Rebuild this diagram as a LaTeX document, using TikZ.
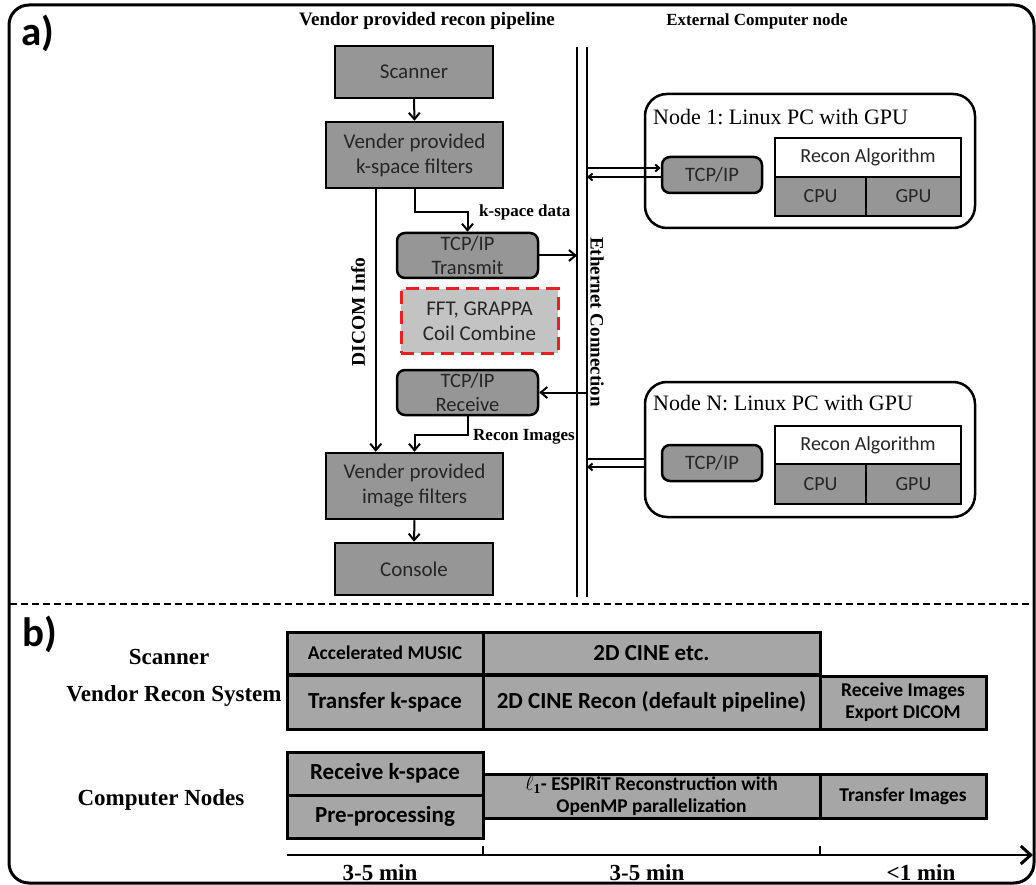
\documentclass[tikz,border=0pt]{standalone}
\usepackage{fontspec}
\setmainfont{Liberation Serif}
\newfontfamily\calfont{Carlito}
\usetikzlibrary{arrows.meta}
\definecolor{pgray}{RGB}{150,150,150}
\definecolor{tgray}{RGB}{166,166,166}
\definecolor{fgray}{RGB}{195,195,195}
\definecolor{dred}{RGB}{235,30,35}
\frenchspacing
\begin{document}
\begin{tikzpicture}[x=1pt,y=-1pt,
  bx/.style n args={4}{at={({(#1+#3)/2},{(#2+#4)/2})}, minimum width={(#3)-(#1)}, minimum height={(#4)-(#2)}},
  pbox/.style={draw, line width=2.5pt, fill=pgray, inner sep=0pt, align=center, text=black!85, font=\calfont\fontsize{21}{25}\selectfont},
  rbox/.style={pbox, rounded corners=8pt, font=\calfont\fontsize{20.5}{24}\selectfont},
  nbox/.style={draw, line width=2.5pt, rounded corners=22pt, inner sep=0pt},
  wbox/.style={draw, line width=2.5pt, fill=white, inner sep=0pt, text=black!85, font=\calfont\fontsize{20}{24}\selectfont},
  cbox/.style={wbox, fill=pgray},
  tbox/.style={draw, line width=3pt, fill=tgray, inner sep=0pt, align=center, font=\calfont\bfseries\fontsize{23}{27}\selectfont},
  tsmall/.style={font=\calfont\bfseries\fontsize{19.5}{22}\selectfont},
  arr/.style={line width=2pt, -{Straight Barb[length=6.5pt,width=11pt]}},
  sarr/.style={line width=2pt, -{Straight Barb[length=4pt,width=7pt]}},
  ln/.style={line width=2pt},
  lbl/.style={font=\bfseries\fontsize{17}{20}\selectfont, inner sep=0pt},
  ttl/.style={font=\bfseries\fontsize{19}{22}\selectfont, inner sep=0pt},
  ntl/.style={font=\fontsize{22}{26}\selectfont, inner sep=0pt, anchor=west},
  rowl/.style={font=\bfseries\fontsize{23}{27}\selectfont, inner sep=0pt},
  panel/.style={font=\calfont\bfseries\fontsize{41}{45}\selectfont, inner sep=0pt},
]
\useasboundingbox (0,0) rectangle (1036,885);
% frame
\draw[line width=3pt, rounded corners=20pt] (9,5) rectangle (1034,883);
\draw[line width=2.5pt, dash pattern=on 7pt off 4pt] (10,604) -- (1033,604);
\node[panel] (pa) at (38,33) {a)};
\node[panel] (pb) at (40,634) {b)};
% titles
\node[ttl] (t1) at (427,21) {Vendor provided recon pipeline};
\node[ttl, font=\bfseries\fontsize{17}{20}\selectfont] (t2) at (757,21) {External Computer node};
% pipeline
\node[pbox, bx={335}{46}{493}{98}] (scan) {Scanner};
\node[pbox, bx={326}{122}{503}{188}] (kf) {Vender provided\\k-space filters};
\node[rbox, bx={397}{233}{538}{278}] (tx) {TCP/IP\\Transmit};
\node[pbox, bx={401}{289}{558}{353}, fill=fgray, draw=dred, line width=3pt, dash pattern=on 13pt off 7pt] (fft) {FFT, GRAPPA\\Coil Combine};
\node[rbox, bx={397}{370}{538}{415}] (rx) {TCP/IP\\Receive};
\node[pbox, bx={326}{453}{503}{519}] (imf) {Vender provided\\image filters};
\node[pbox, bx={335}{543}{493}{595}] (con) {Console};
% ethernet
\coordinate (eLt) at (577,47); \coordinate (eLb) at (577,597);
\coordinate (eRt) at (587,47); \coordinate (eRb) at (587,597);
\draw[ln] (eLt) -- (eLb);
\draw[ln] (eRt) -- (eRb);
\node[lbl, rotate=-90, font=\bfseries\fontsize{19}{22}\selectfont] (eth) at (597,322) {Ethernet Connection};
% connectors
\draw[arr] (scan.south) -- (kf.north);
\draw[arr] ([xshift=51pt]kf.south west) -- ([xshift=51pt]kf.south west |- imf.north);
\node[lbl, rotate=90, font=\bfseries\fontsize{19.5}{22}\selectfont] (dic) at (358,312) {DICOM Info};
\draw[arr] (kf.south) -- ++(0,23) -| (tx.north);
\node[lbl, anchor=west] (kl) at (479,212) {k-space data};
\draw[arr] (tx.east) -- (tx.east -| eLt);
\draw[arr] (rx.east -| eRt) -- (rx.east);
\draw[arr] (rx.south) -- ++(0,19) -| (imf.north);
\node[lbl, anchor=west] (rl) at (473,437) {Recon Images};
\draw[arr] (imf.south) -- (con.north);
% node 1
\node[nbox, bx={645}{94}{975}{228}] (n1) {};
\node[ntl] (n1t) at (653,117) {Node 1: Linux PC with GPU};
\node[rbox, bx={662}{157}{762}{193}] (n1tcp) {TCP/IP};
\node[wbox, bx={775}{138}{961}{177}] (n1ra) {Recon Algorithm};
\node[cbox, bx={775}{177}{866}{216}] (n1cpu) {CPU};
\node[cbox, bx={866}{177}{961}{216}] (n1gpu) {GPU};
\draw[sarr] ([yshift=7pt]n1tcp.west -| eRt) -- ([yshift=7pt]n1tcp.west);
\draw[sarr] ([yshift=-2pt]n1tcp.west) -- ([yshift=-2pt]n1tcp.west -| eRt);
% node N
\node[nbox, bx={645}{382}{975}{517}] (nn) {};
\node[ntl] (nnt) at (653,403) {Node N: Linux PC with GPU};
\node[rbox, bx={662}{445}{762}{481}] (nntcp) {TCP/IP};
\node[wbox, bx={775}{426}{961}{464}] (nnra) {Recon Algorithm};
\node[cbox, bx={775}{464}{866}{504}] (nncpu) {CPU};
\node[cbox, bx={866}{464}{961}{504}] (nngpu) {GPU};
\draw[ln] ([yshift=-9.5pt]nn.west -| eRt) -- ([yshift=-9.5pt]nn.west);
\draw[sarr] ([yshift=-17.5pt]nn.west) -- ([yshift=-17.5pt]nn.west -| eRt);
% part b
\node[rowl] (rs) at (169,657) {Scanner};
\node[rowl] (rv) at (174,696) {Vendor Recon System};
\node[rowl] (rc) at (161,800) {Computer Nodes};
\node[tbox, tsmall, bx={287}{632}{483}{674}] (am) {Accelerated MUSIC};
\node[tbox, bx={483}{632}{820}{674}] (cine) {2D CINE etc.};
\node[tbox, bx={287}{675}{483}{729}] (tk) {Transfer k-space};
\node[tbox, bx={483}{675}{820}{729}] (cr) {2D CINE Recon (default pipeline)};
\node[tbox, tsmall, bx={820}{676}{986}{729}] (ri) {Receive Images\\Export DICOM};
\node[tbox, bx={287}{752}{483}{795}] (rk) {Receive k-space};
\node[tbox, bx={287}{795}{483}{838}] (pp) {Pre-processing};
\node[tbox, tsmall, bx={483}{774}{820}{818}] (es) {$\ell_{\mathbf{1}}$- ESPIRiT Reconstruction with\\OpenMP parallelization};
\node[tbox, tsmall, bx={820}{774}{986}{818}] (ti) {Transfer Images};
% time axis
\coordinate (ax0) at (287,855); \coordinate (ax1) at (1033,855);
\draw[line width=2.5pt, -{Straight Barb[length=10pt,width=18pt,line width=3pt]}] (ax0) -- (ax1);
\draw[line width=2pt] (483,855) -- (483,846);
\draw[line width=2pt] (820,855) -- (820,846);
\node[rowl] (m1) at (380,873) {3-5 min};
\node[rowl] (m2) at (647,873) {3-5 min};
\node[rowl] (m3) at (921,873) {<1 min};
\end{tikzpicture}
\end{document}
